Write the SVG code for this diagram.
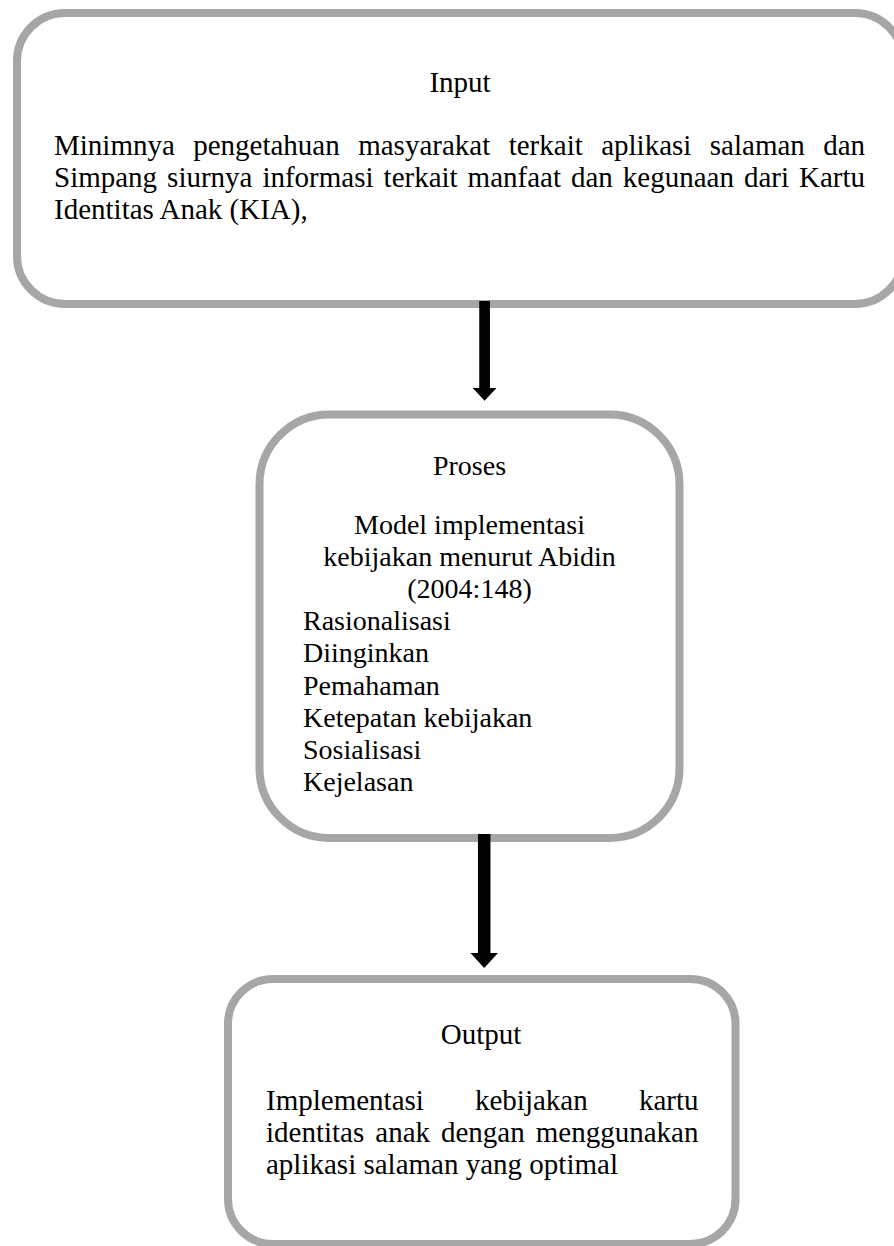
<svg xmlns="http://www.w3.org/2000/svg" width="894" height="1246" viewBox="0 0 894 1246">
  <style>
    .box { fill: #ffffff; stroke: #a6a6a6; stroke-width: 8; }
    .t { font-family: "Liberation Serif", "Times New Roman", serif; fill: #000000; }
    .t29 { font-size: 29px; }
    .t28 { font-size: 28px; }
    .mid { text-anchor: middle; }
    .conn { stroke: #000000; fill: none; stroke-linecap: butt; marker-end: url(#head); }
  </style>
  <defs>
    <marker id="head" viewBox="0 0 12 22" refX="0" refY="11" markerWidth="1.2" markerHeight="2.2" markerUnits="strokeWidth" orient="auto">
      <path d="M0,0 L12,11 L0,22 Z" fill="#000000"/>
    </marker>
  </defs>
  <rect width="894" height="1246" fill="#ffffff"/>

  <g id="node-input">
    <rect class="box" x="17" y="13" width="886" height="291" rx="48" ry="48"/>
    <text class="t t29 mid" x="460" y="92">Input</text>
    <text class="t t29" y="155"><tspan x="54">Minimnya</tspan><tspan x="193.2">pengetahuan</tspan><tspan x="358.2">masyarakat</tspan><tspan x="508.7">terkait</tspan><tspan x="601.2">aplikasi</tspan><tspan x="709.8">salaman</tspan><tspan x="823.2">dan</tspan></text>
    <text class="t t29" y="187"><tspan x="54">Simpang</tspan><tspan x="167.1">siurnya</tspan><tspan x="262.4">informasi</tspan><tspan x="383.6">terkait</tspan><tspan x="467.6">manfaat</tspan><tspan x="571">dan</tspan><tspan x="622.8">kegunaan</tspan><tspan x="743.9">dari</tspan><tspan x="799">Kartu</tspan></text>
    <text class="t t29" x="54" y="218.5">Identitas Anak (KIA),</text>
  </g>

  <g id="node-proses">
    <rect class="box" x="259.5" y="414.5" width="420" height="423.5" rx="70" ry="70"/>
    <text class="t t28 mid" x="469.5" y="474.5">Proses</text>
    <text class="t t28 mid" x="469.5" y="533.5">Model implementasi</text>
    <text class="t t28 mid" x="469.5" y="565.7">kebijakan menurut Abidin</text>
    <text class="t t28 mid" x="469.5" y="597.9">(2004:148)</text>
    <text class="t t28" x="303" y="630.1">Rasionalisasi</text>
    <text class="t t28" x="303" y="662.3">Diinginkan</text>
    <text class="t t28" x="303" y="694.5">Pemahaman</text>
    <text class="t t28" x="303" y="726.7">Ketepatan kebijakan</text>
    <text class="t t28" x="303" y="758.9">Sosialisasi</text>
    <text class="t t28" x="303" y="791.1">Kejelasan</text>
  </g>

  <g id="node-output">
    <rect class="box" x="228" y="979" width="507.5" height="265" rx="45" ry="45"/>
    <text class="t t29 mid" x="481" y="1044">Output</text>
    <text class="t t29" y="1110"><tspan x="266">Implementasi</tspan><tspan x="475">kebijakan</tspan><tspan x="638.9">kartu</tspan></text>
    <text class="t t29" y="1142"><tspan x="266">identitas</tspan><tspan x="375.3">anak</tspan><tspan x="441">dengan</tspan><tspan x="535.8">menggunakan</tspan></text>
    <text class="t t29" x="266" y="1174">aplikasi salaman yang optimal</text>
  </g>

  <g id="connectors">
    <line class="conn" x1="484.6" y1="301" x2="484.6" y2="388" stroke-width="10.7"/>
    <line class="conn" x1="484.2" y1="834" x2="484.2" y2="953" stroke-width="12.5"/>
  </g>
</svg>
